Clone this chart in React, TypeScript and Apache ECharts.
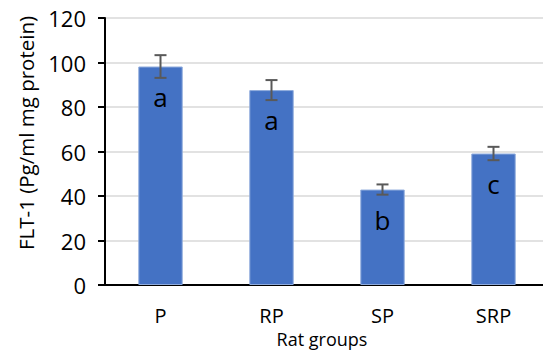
import React, { useEffect, useRef } from "react";
import * as echarts from "echarts";

const categories = ["P", "RP", "SP", "SRP"];
const values = [98.2, 87.6, 42.9, 59.1];
const errors = [5.1, 4.5, 2.3, 3.0];
const letters = ["a", "a", "b", "c"];
const yTicks = [0, 20, 40, 60, 80, 100, 120];

const FONT = "'Open Sans', 'Liberation Sans', sans-serif";

export default function App() {
  const ref = useRef<HTMLDivElement>(null);
  useEffect(() => {
    if (!ref.current) return;
    const chart = echarts.init(ref.current, undefined, { renderer: "svg" });
    const errData = values.map((v, i) => [i, v - errors[i], v + errors[i]]);
    chart.setOption({
      animation: false,
      grid: { left: 105, right: -6, top: 18, bottom: 65, outerBoundsMode: "none", containLabel: false },
      xAxis: {
        type: "category",
        data: categories,
        axisLine: { lineStyle: { color: "#000", width: 2 } },
        axisTick: { show: false },
        axisLabel: { color: "#000", fontSize: 20, fontFamily: FONT, margin: 20 },
        name: "Rat groups",
        nameLocation: "middle",
        nameGap: 34,
        nameTextStyle: { color: "#000", fontSize: 18, fontFamily: FONT, padding: [0, 10, 0, 0] },
      },
      yAxis: {
        type: "value",
        min: yTicks[0],
        max: yTicks[yTicks.length - 1],
        interval: 20,
        axisLine: { show: true, lineStyle: { color: "#000", width: 2 } },
        axisTick: { show: true, length: 7, lineStyle: { color: "#000", width: 2 } },
        axisLabel: { color: "#000", fontSize: 22, fontFamily: FONT, margin: 19 },
        splitLine: { lineStyle: { color: "#d9d9d9", width: 1.5 } },
      },
      graphic: [
        {
          type: "text",
          x: 26,
          y: 133,
          rotation: Math.PI / 2,
          style: {
            text: "FLT-1 (Pg/ml mg protein)",
            fontSize: 20.5,
            fontFamily: FONT,
            fill: "#000",
            align: "center",
            verticalAlign: "middle",
          },
        },
      ],
      series: [
        {
          type: "bar",
          data: values,
          barWidth: "40%",
          itemStyle: { color: "#4472c4", borderColor: "#8fabdc", borderWidth: 1 },
          label: {
            show: true,
            position: "insideTop",
            distance: 17,
            formatter: (p: any) => letters[p.dataIndex],
            color: "#000",
            fontSize: 26,
            fontFamily: FONT,
          },
        },
        {
          type: "custom",
          data: errData,
          z: 10,
          renderItem: (params: any, api: any) => {
            const x = api.value(0);
            const lo = api.coord([x, api.value(1)]);
            const hi = api.coord([x, api.value(2)]);
            const hw = 6;
            const style = { stroke: "#595959", lineWidth: 2 };
            return {
              type: "group",
              children: [
                { type: "line", shape: { x1: lo[0], y1: lo[1], x2: hi[0], y2: hi[1] }, style },
                { type: "line", shape: { x1: lo[0] - hw, y1: lo[1], x2: lo[0] + hw, y2: lo[1] }, style },
                { type: "line", shape: { x1: hi[0] - hw, y1: hi[1], x2: hi[0] + hw, y2: hi[1] }, style },
              ],
            };
          },
        },
      ],
    });
    return () => chart.dispose();
  }, []);
  return <div ref={ref} style={{ width: 543, height: 350, position: "absolute", left: 0, top: 0 }} />;
}
